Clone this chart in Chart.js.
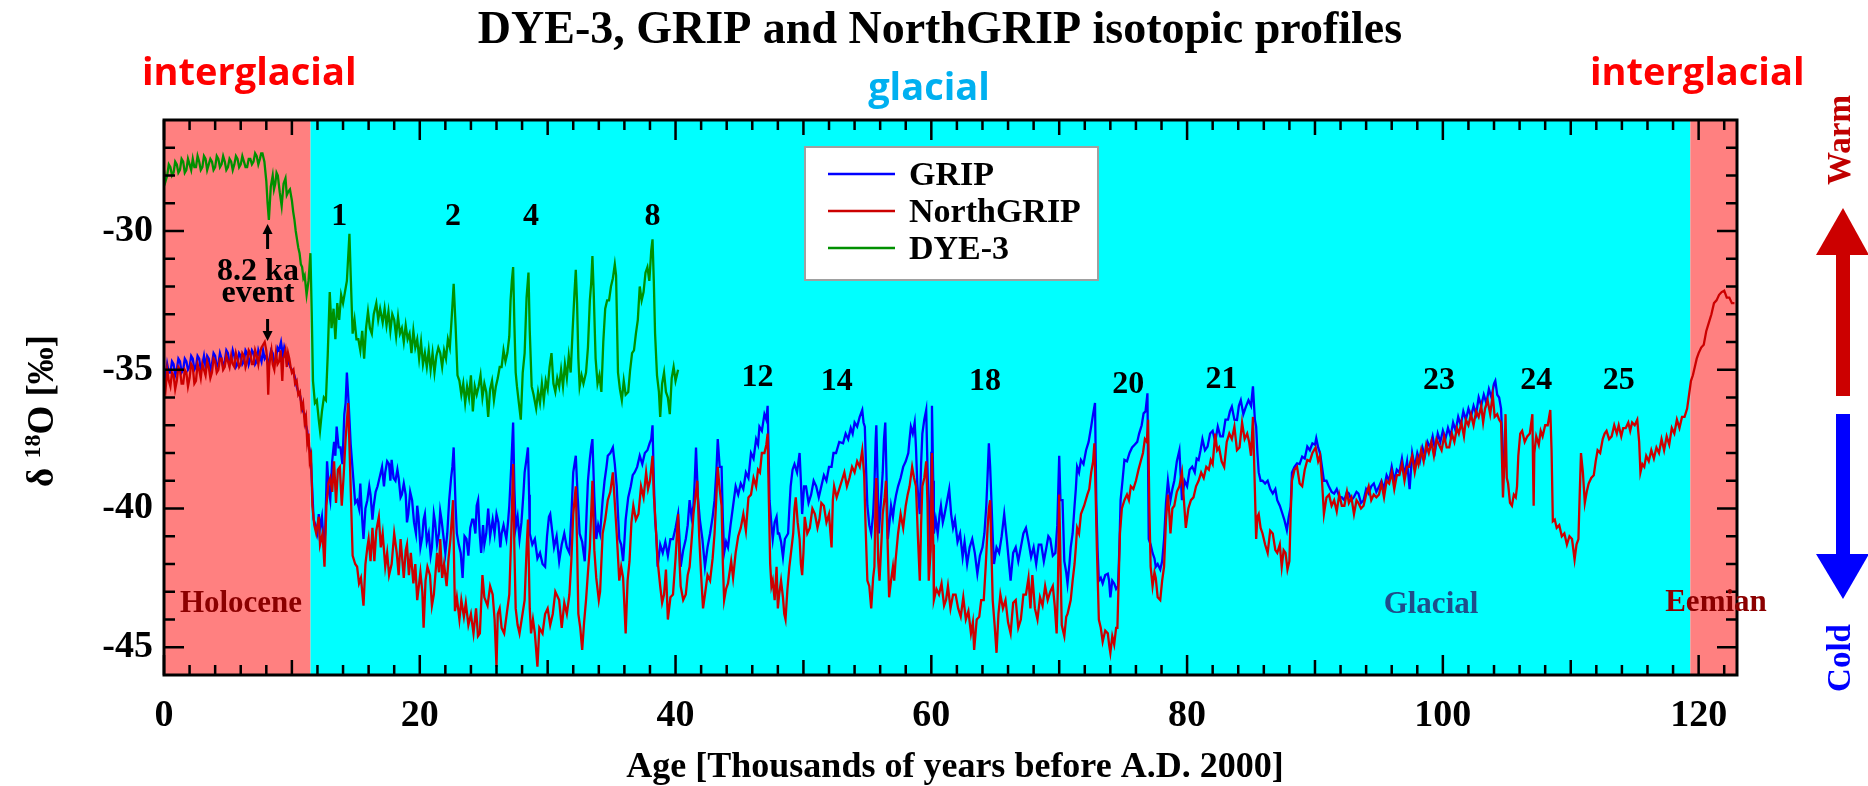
<!DOCTYPE html>
<html><head><meta charset="utf-8">
<script src="https://cdn.jsdelivr.net/npm/chart.js@4.4.1/dist/chart.umd.min.js"></script>
<style>html,body{margin:0;padding:0;background:#fff;}canvas{display:block;}</style>
</head><body>
<canvas id="c" width="1868" height="786"></canvas>
<script>
// ---------- data ----------
const xTickLabels = [0, 20, 40, 60, 80, 100, 120];
const yTickLabels = [-45, -40, -35, -30];
const periodEdges = [0, 11.46, 119.35, 123];
const eventNumbers = ['1','2','4','8','12','14','18','20','21','23','24','25'];
const eventAges = [13.7, 22.6, 28.7, 38.2, 46.4, 52.6, 64.2, 75.4, 82.7, 99.7, 107.3, 113.75];
const eventLevels = [-29.47, -29.47, -29.47, -29.47, -35.29, -35.43, -35.43, -35.54, -35.36, -35.4, -35.4, -35.4];
const event82Age = 8.1;

const NGRIP = [[0,-35.3],[0.125,-35.7],[0.25,-35.0],[0.375,-35.4],[0.5,-35.6],[0.625,-35.1],[0.75,-35.2],[0.875,-35.7],[1,-35.4],[1.125,-34.9],[1.25,-35.0],[1.375,-35.5],[1.5,-35.5],[1.625,-35.0],[1.75,-35.1],[1.875,-35.6],[2,-35.3],[2.125,-34.8],[2.25,-34.9],[2.375,-35.5],[2.5,-35.4],[2.625,-34.8],[2.75,-35.0],[2.875,-35.3],[3,-34.8],[3.125,-35.0],[3.25,-35.2],[3.375,-34.7],[3.5,-34.9],[3.625,-35.3],[3.75,-35.1],[3.875,-34.6],[4,-34.7],[4.125,-35.1],[4.25,-35.0],[4.375,-34.6],[4.5,-34.6],[4.625,-35.0],[4.75,-34.9],[4.875,-34.5],[5,-34.7],[5.125,-34.9],[5.25,-34.5],[5.375,-34.8],[5.5,-34.9],[5.625,-34.4],[5.75,-34.6],[5.875,-34.9],[6,-34.8],[6.125,-34.4],[6.25,-34.5],[6.375,-34.9],[6.5,-34.7],[6.625,-34.3],[6.75,-34.4],[6.875,-34.8],[7,-34.8],[7.125,-34.3],[7.25,-34.5],[7.375,-34.8],[7.5,-34.4],[7.625,-34.2],[7.75,-34.1],[7.875,-34.0],[8,-34.3],[8.075,-34.7],[8.15,-35.9],[8.225,-34.9],[8.3,-34.6],[8.4,-34.3],[8.5,-34.8],[8.625,-35.0],[8.75,-34.4],[8.875,-34.8],[9,-34.7],[9.125,-34.3],[9.25,-35.4],[9.325,-34.6],[9.4,-34.5],[9.5,-34.3],[9.6,-34.9],[9.7,-34.4],[9.8,-34.6],[9.9,-34.9],[10,-35.1],[10.125,-35.0],[10.25,-35.5],[10.375,-35.4],[10.5,-35.9],[10.625,-35.8],[10.75,-36.4],[10.875,-36.2],[11,-36.9],[11.1,-36.7],[11.2,-37.6],[11.3,-37.3],[11.4,-38.3],[11.5,-38.1],[11.6,-39.9],
[11.75,-40.6],[11.9,-40.9],[12.1,-40.3],[12.2,-41.3],[12.4,-40.9],[12.55,-42.1],[12.7,-39.9],[12.85,-39.1],[13,-38.9],[13.15,-39.4],[13.3,-38.3],[13.45,-39.8],[13.6,-38.6],[13.75,-38.5],[13.9,-39.9],[14.05,-38.8],[14.2,-37.5],[14.4,-36.2],[14.55,-38.5],[14.75,-41.7],[14.95,-42.0],[15.1,-42.1],[15.25,-42.7],[15.4,-42.5],[15.6,-43.5],[15.75,-42.0],[15.9,-41.4],[16,-41.1],[16.15,-41.9],[16.3,-40.7],[16.45,-41.9],[16.6,-40.8],[16.8,-40.3],[16.95,-41.4],[17.1,-40.9],[17.3,-42.1],[17.45,-41.6],[17.6,-42.4],[17.8,-42.0],[18,-40.9],[18.2,-41.6],[18.35,-42.4],[18.5,-41.1],[18.75,-42.5],[18.9,-41.5],[19,-41.3],[19.15,-42.4],[19.3,-41.6],[19.5,-42.7],[19.65,-42.0],[19.8,-43.3],[20.05,-42.3],[20.2,-43.0],[20.3,-44.3],[20.45,-42.6],[20.6,-42.1],[20.8,-42.4],[20.95,-43.5],[21.1,-43.1],[21.35,-41.6],[21.5,-42.3],[21.6,-41.1],[21.75,-42.5],[21.9,-42.0],[22.1,-42.8],[22.25,-41.8],[22.4,-41.1],[22.6,-39.7],[22.75,-43.7],[22.9,-43.2],[23.1,-44.0],[23.25,-43.3],[23.45,-43.9],[23.6,-43.4],[23.8,-44.2],[24,-43.8],[24.2,-44.5],[24.4,-43.6],[24.55,-44.6],[24.7,-44.5],[24.9,-42.4],[25.05,-43.2],[25.3,-43.5],[25.5,-42.8],[25.7,-43.1],[25.85,-44.0],[26,-45.7],[26.1,-43.8],[26.25,-43.6],[26.4,-44.3],[26.6,-44.5],[26.8,-43.8],[27,-43.1],[27.15,-41.0],[27.3,-38.4],[27.4,-41.5],[27.5,-43.6],[27.65,-44.2],[27.8,-44.5],[28,-43.9],[28.2,-43.3],[28.35,-41.5],[28.46,-40.4],[28.6,-43.6],[28.7,-44.5],[28.85,-44.0],[29,-44.5],[29.2,-45.7],[29.35,-44.3],[29.6,-44.5],[29.8,-43.8],[30,-43.6],[30.2,-44.2],[30.4,-43.8],[30.6,-43.0],[30.9,-43.3],[31.1,-44.3],[31.3,-43.4],[31.5,-43.8],[31.7,-43.1],[31.85,-41.9],[32,-40.2],[32.2,-39.2],[32.3,-41.3],[32.4,-43.8],[32.55,-44.3],[32.7,-45.1],[32.85,-44.1],[33,-43.3],[33.15,-42.3],[33.3,-41.4],[33.5,-39.0],[33.65,-41.5],[33.8,-42.5],[34,-43.3],[34.1,-43.0],[34.3,-40.9],[34.5,-40.4],[34.7,-39.7],[34.9,-39.4],[35.1,-38.7],[35.25,-39.8],[35.4,-40.9],[35.6,-42.6],[35.75,-42.1],[35.9,-42.5],[36.1,-44.5],[36.25,-42.6],[36.4,-41.9],[36.55,-40.5],[36.7,-39.9],[36.9,-40.4],[37.1,-40.2],[37.3,-39.2],[37.5,-39.6],[37.7,-38.7],[37.85,-39.3],[38,-39.0],[38.2,-38.1],[38.3,-39.5],[38.4,-40.2],[38.6,-41.9],[38.8,-42.8],[38.95,-43.4],[39.1,-43.1],[39.25,-42.2],[39.4,-44.0],[39.6,-43.2],[39.8,-43.1],[40,-41.8],[40.2,-40.2],[40.3,-41.8],[40.4,-42.8],[40.6,-43.3],[40.8,-43.1],[40.95,-42.4],[41.1,-42.1],[41.25,-41.2],[41.4,-40.2],[41.55,-39.6],[41.7,-39.0],[41.85,-41.0],[42,-42.4],[42.15,-43.6],[42.3,-43.1],[42.5,-42.4],[42.7,-42.6],[42.9,-41.8],[43.05,-40.9],[43.2,-39.5],[43.3,-38.5],[43.45,-39.3],[43.6,-39.9],[43.7,-42.0],[43.8,-43.3],[43.95,-42.9],[44.1,-42.7],[44.35,-41.9],[44.5,-42.5],[44.7,-41.6],[44.9,-41.0],[45.1,-40.7],[45.3,-40.2],[45.5,-40.8],[45.7,-39.6],[45.9,-39.5],[46.1,-38.9],[46.3,-39.2],[46.45,-38.6],[46.6,-38.7],[46.75,-38.0],[46.95,-38.0],[47.1,-37.7],[47.2,-37.3],[47.3,-39.8],[47.4,-42.0],[47.5,-42.8],[47.6,-42.6],[47.75,-43.3],[47.9,-42.1],[48,-43.6],[48.1,-43.1],[48.25,-42.6],[48.4,-43.2],[48.5,-43.8],[48.6,-44.0],[48.75,-42.9],[48.9,-42.1],[49.05,-41.5],[49.2,-40.9],[49.3,-40.0],[49.4,-39.6],[49.55,-40.5],[49.7,-41.1],[49.8,-42.0],[49.9,-42.4],[50,-41.6],[50.1,-40.3],[50.3,-40.9],[50.5,-40.7],[50.7,-40.0],[50.9,-40.2],[51.1,-40.7],[51.25,-40.4],[51.4,-39.8],[51.6,-39.9],[51.8,-40.5],[52,-40.2],[52.2,-41.4],[52.3,-39.7],[52.4,-39.2],[52.6,-39.6],[52.8,-39.3],[53,-39.0],[53.2,-38.7],[53.4,-39.2],[53.6,-38.9],[53.8,-38.5],[54,-38.7],[54.2,-38.3],[54.4,-38.5],[54.6,-37.9],[54.75,-38.8],[54.85,-40.5],[55,-42.6],[55.15,-42.8],[55.3,-43.6],[55.45,-42.5],[55.55,-42.1],[55.65,-39.5],[55.7,-38.9],[55.85,-41.9],[55.95,-42.6],[56.1,-41.2],[56.2,-40.2],[56.35,-39.6],[56.45,-39.0],[56.6,-41.5],[56.7,-43.2],[56.85,-42.6],[57,-42.1],[57.1,-42.6],[57.2,-41.9],[57.4,-40.9],[57.6,-40.2],[57.8,-40.7],[58,-39.9],[58.15,-39.5],[58.3,-39.2],[58.5,-38.5],[58.65,-38.9],[58.8,-39.2],[58.95,-41.0],[59.1,-42.6],[59.2,-40.6],[59.3,-39.2],[59.45,-38.9],[59.6,-38.3],[59.7,-39.8],[59.8,-42.6],[59.95,-41.5],[60.05,-38.0],[60.15,-41.3],[60.2,-43.3],[60.4,-42.9],[60.6,-43.1],[60.8,-42.7],[61,-43.5],[61.15,-43.3],[61.3,-42.8],[61.5,-43.6],[61.7,-43.1],[61.9,-43.1],[62.1,-43.6],[62.3,-43.9],[62.5,-43.2],[62.7,-44.0],[62.9,-43.7],[63.1,-44.5],[63.25,-44.1],[63.35,-45.1],[63.55,-44.0],[63.75,-43.9],[63.9,-43.3],[64.1,-43.3],[64.25,-42.1],[64.4,-40.7],[64.5,-40.0],[64.6,-39.7],[64.7,-41.5],[64.8,-43.3],[64.95,-44.2],[65.1,-45.2],[65.25,-43.8],[65.4,-43.1],[65.6,-43.6],[65.8,-43.3],[66,-44.1],[66.2,-44.5],[66.4,-43.4],[66.6,-43.3],[66.8,-44.3],[67,-44.0],[67.2,-43.1],[67.4,-43.1],[67.6,-42.5],[67.75,-43.6],[67.9,-42.4],[68.1,-43.6],[68.3,-44.0],[68.5,-43.2],[68.7,-43.5],[68.9,-42.8],[69.1,-43.3],[69.3,-43.0],[69.5,-42.8],[69.65,-43.5],[69.8,-44.5],[69.9,-42.8],[70,-39.5],[70.1,-42.0],[70.2,-44.2],[70.4,-44.6],[70.55,-43.9],[70.65,-43.8],[70.8,-43.5],[70.9,-43.3],[71.05,-42.6],[71.2,-42.0],[71.3,-41.4],[71.4,-40.7],[71.55,-40.9],[71.7,-40.2],[71.95,-39.9],[72.2,-39.5],[72.35,-39.3],[72.5,-38.7],[72.65,-38.3],[72.75,-37.65],[72.85,-39.5],[72.95,-41.5],[73.1,-44.0],[73.25,-44.3],[73.4,-44.8],[73.6,-44.4],[73.8,-44.5],[73.9,-44.9],[74,-45.2],[74.15,-44.6],[74.3,-44.9],[74.45,-44.3],[74.55,-44.3],[74.65,-42.6],[74.75,-40.9],[74.9,-40.0],[75.1,-39.7],[75.3,-39.5],[75.45,-39.7],[75.6,-39.2],[75.8,-39.3],[76,-39.0],[76.2,-38.6],[76.4,-38.25],[76.55,-38.0],[76.7,-37.5],[76.85,-37.6],[76.95,-36.8],[77.05,-40.0],[77.15,-42.1],[77.3,-42.8],[77.45,-42.3],[77.55,-42.5],[77.7,-43.2],[77.9,-43.3],[78.05,-42.6],[78.2,-42.1],[78.35,-40.4],[78.5,-39.5],[78.6,-40.1],[78.7,-40.9],[78.85,-40.0],[79,-39.9],[79.2,-39.4],[79.4,-39.2],[79.6,-38.7],[79.75,-39.7],[79.9,-40.7],[80.1,-40.0],[80.3,-39.7],[80.5,-39.6],[80.7,-39.2],[80.9,-39.0],[81.1,-38.7],[81.3,-38.9],[81.5,-38.5],[81.7,-38.6],[81.85,-38.25],[82,-38.4],[82.2,-37.3],[82.35,-37.9],[82.5,-37.8],[82.7,-38.3],[82.9,-38.5],[83.1,-37.6],[83.3,-37.3],[83.5,-37.5],[83.7,-37.05],[83.9,-37.9],[84.1,-37.8],[84.3,-36.9],[84.5,-37.5],[84.7,-37.3],[84.85,-37.6],[85,-38.1],[85.15,-36.7],[85.3,-39.3],[85.4,-41.1],[85.5,-40.3],[85.6,-40.2],[85.75,-40.7],[85.9,-40.9],[86.1,-41.3],[86.3,-41.6],[86.5,-40.8],[86.7,-40.9],[86.9,-41.5],[87.05,-41.6],[87.25,-41.3],[87.4,-42.1],[87.55,-41.5],[87.7,-41.6],[87.85,-42.2],[88,-41.9],[88.1,-40.2],[88.2,-39.0],[88.4,-38.6],[88.6,-38.5],[88.8,-39.1],[89,-39.2],[89.2,-38.6],[89.4,-38.25],[89.6,-38.3],[89.8,-38.0],[90.05,-37.8],[90.25,-38.3],[90.4,-38.1],[90.55,-39.0],[90.7,-40.2],[90.9,-39.6],[91.1,-39.5],[91.3,-39.9],[91.5,-39.7],[91.7,-40.1],[91.9,-39.5],[92.1,-39.9],[92.3,-39.9],[92.5,-39.4],[92.65,-39.8],[92.85,-39.6],[93.05,-40.2],[93.25,-39.7],[93.4,-39.8],[93.6,-40.0],[93.8,-39.9],[94,-39.5],[94.2,-39.2],[94.4,-39.7],[94.6,-39.5],[94.8,-39.6],[95,-39.5],[95.2,-39.1],[95.4,-39.6],[95.6,-39.0],[95.8,-39.1],[96,-38.7],[96.2,-39.3],[96.4,-38.8],[96.6,-38.8],[96.8,-38.4],[97,-39.0],[97.2,-38.5],[97.35,-38.5],[97.6,-38.1],[97.8,-38.7],[98,-38.2],[98.1,-38.4],[98.3,-37.9],[98.5,-38.3],[98.7,-37.7],[98.9,-38.0],[99.1,-37.6],[99.3,-38.1],[99.5,-37.5],[99.7,-37.7],[99.9,-37.9],[100.1,-37.4],[100.3,-37.8],[100.5,-37.8],[100.7,-37.3],[100.9,-37.6],[101.1,-37.1],[101.25,-37.3],[101.45,-36.9],[101.65,-37.4],[101.8,-36.8],[102,-37.0],[102.2,-36.6],[102.4,-37.0],[102.6,-36.5],[102.8,-36.7],[103,-36.3],[103.15,-36.9],[103.3,-36.4],[103.5,-36.1],[103.7,-36.6],[103.9,-35.9],[104.05,-36.7],[104.25,-36.6],[104.4,-36.8],[104.55,-36.9],[104.7,-39.6],[104.8,-38.5],[104.9,-36.6],[105,-38.9],[105.1,-39.1],[105.25,-39.8],[105.4,-39.9],[105.55,-39.5],[105.7,-39.6],[105.8,-39.2],[105.9,-38.1],[106.05,-37.3],[106.2,-37.2],[106.4,-37.6],[106.6,-37.4],[106.8,-37.3],[107,-36.6],[107.05,-38.4],[107.1,-39.9],[107.15,-38.0],[107.3,-37.4],[107.5,-37.7],[107.65,-37.2],[107.8,-37.4],[108,-37.0],[108.2,-37.0],[108.4,-36.45],[108.5,-37.9],[108.6,-40.46],[108.75,-40.4],[108.9,-40.7],[109.1,-40.6],[109.3,-41.0],[109.5,-40.9],[109.7,-41.3],[109.9,-41.0],[110.1,-41.1],[110.3,-41.84],[110.45,-41.3],[110.6,-41.1],[110.7,-39.5],[110.8,-38.0],[110.95,-38.7],[111.1,-39.8],[111.25,-39.4],[111.4,-39.1],[111.6,-38.9],[111.8,-38.8],[111.95,-38.3],[112.1,-37.9],[112.3,-38.0],[112.5,-37.5],[112.65,-37.3],[112.8,-37.2],[113,-37.5],[113.2,-37.4],[113.4,-37.0],[113.6,-37.3],[113.75,-37.0],[113.95,-37.4],[114.1,-37.1],[114.3,-37.1],[114.5,-36.9],[114.65,-37.2],[114.8,-36.9],[115,-37.0],[115.2,-36.8],[115.35,-37.6],[115.45,-38.7],[115.6,-38.4],[115.75,-38.5],[115.9,-38.1],[116.1,-38.3],[116.3,-37.9],[116.5,-38.2],[116.7,-37.8],[116.9,-38.0],[117.1,-37.5],[117.3,-37.9],[117.5,-37.4],[117.7,-37.7],[117.9,-37.1],[118.1,-37.3],[118.3,-36.8],[118.5,-37.1],[118.7,-36.7],[118.9,-36.7],[119.1,-36.4],[119.25,-35.9],[119.4,-35.4],[119.55,-35.2],[119.7,-34.9],[119.85,-34.6],[120,-34.4],[120.2,-34.2],[120.4,-34.1],[120.6,-33.6],[120.8,-33.3],[121,-33.0],[121.2,-32.6],[121.4,-32.5],[121.6,-32.3],[121.8,-32.2],[122,-32.15],[122.2,-32.4],[122.4,-32.4],[122.6,-32.6],[122.8,-32.6]];

const GRIP = [[0,-35.0],[0.125,-35.3],[0.25,-34.8],[0.375,-35.1],[0.5,-35.1],[0.625,-34.7],[0.75,-34.8],[0.875,-35.2],[1,-35.0],[1.125,-34.6],[1.25,-34.7],[1.375,-35.1],[1.5,-35.0],[1.625,-34.6],[1.75,-34.7],[1.875,-35.0],[2,-34.9],[2.125,-34.5],[2.25,-34.6],[2.375,-35.0],[2.5,-34.9],[2.625,-34.5],[2.75,-34.6],[2.875,-35.0],[3,-34.8],[3.125,-34.5],[3.25,-34.9],[3.375,-34.5],[3.5,-34.6],[3.625,-35.0],[3.75,-34.8],[3.875,-34.4],[4,-34.5],[4.125,-34.9],[4.25,-34.8],[4.375,-34.4],[4.5,-34.6],[4.625,-34.9],[4.75,-34.7],[4.875,-34.3],[5,-34.4],[5.125,-34.8],[5.25,-34.7],[5.375,-34.3],[5.5,-34.5],[5.625,-34.9],[5.75,-34.8],[5.875,-34.4],[6,-34.5],[6.125,-34.8],[6.25,-34.7],[6.375,-34.3],[6.5,-34.4],[6.625,-34.8],[6.75,-34.6],[6.875,-34.3],[7,-34.4],[7.125,-34.8],[7.25,-34.7],[7.375,-34.3],[7.5,-34.5],[7.625,-34.7],[7.75,-34.3],[7.875,-34.6],[8,-34.5],[8.125,-34.8],[8.25,-34.6],[8.375,-34.3],[8.5,-34.4],[8.625,-34.8],[8.75,-34.6],[8.875,-34.2],[9,-34.3],[9.15,-34.0],[9.3,-34.5],[9.4,-34.2],[9.5,-34.4],[9.625,-34.8],[9.75,-34.7],[9.875,-34.9],[10,-35.0],[10.125,-35.1],[10.25,-35.3],[10.375,-35.6],[10.5,-35.8],[10.625,-35.9],[10.75,-36.2],[10.875,-36.5],[11,-36.6],[11.1,-37.0],[11.2,-37.2],[11.3,-37.7],[11.4,-37.9],[11.5,-38.4],[11.6,-39.4],[11.7,-40.4],[11.85,-40.6],[12,-40.9],[12.1,-40.2],[12.2,-40.7],[12.35,-40.3],[12.5,-41.4],[12.6,-40.9],[12.75,-38.3],[12.9,-39.4],[13,-39.7],[13.15,-38.3],[13.3,-37.6],[13.4,-38.1],[13.5,-37.05],[13.65,-37.8],[13.8,-37.8],[13.95,-38.4],[14.1,-36.6],[14.2,-36.2],[14.3,-35.1],[14.45,-36.3],[14.6,-37.7],[14.85,-39.2],[14.95,-39.8],[15.1,-39.7],[15.25,-40.0],[15.35,-39.1],[15.5,-40.4],[15.6,-41.1],[15.75,-40.0],[15.9,-39.7],[16.05,-39.2],[16.15,-39.5],[16.3,-40.4],[16.4,-39.9],[16.55,-39.4],[16.7,-39.2],[16.9,-38.8],[17.05,-38.5],[17.2,-39.2],[17.3,-38.7],[17.45,-38.3],[17.6,-38.4],[17.7,-39.0],[17.8,-38.25],[17.95,-38.9],[18.1,-39.0],[18.25,-38.6],[18.35,-38.9],[18.5,-39.6],[18.6,-39.5],[18.75,-39.1],[18.9,-39.5],[19,-40.5],[19.1,-40.2],[19.25,-39.4],[19.4,-39.7],[19.55,-40.5],[19.7,-40.9],[19.8,-39.9],[19.9,-40.3],[20.05,-41.4],[20.2,-41.0],[20.3,-40.4],[20.4,-40.2],[20.55,-41.2],[20.7,-40.9],[20.85,-41.7],[20.95,-41.4],[21.1,-40.2],[21.2,-40.5],[21.35,-41.3],[21.5,-40.9],[21.6,-40.1],[21.7,-40.4],[21.85,-41.0],[22,-41.6],[22.15,-40.9],[22.3,-39.7],[22.45,-38.9],[22.55,-38.5],[22.65,-37.8],[22.8,-39.9],[22.9,-40.9],[23.05,-41.3],[23.2,-41.6],[23.35,-42.5],[23.5,-41.0],[23.65,-41.1],[23.8,-41.7],[23.95,-40.7],[24.1,-40.4],[24.2,-40.4],[24.35,-40.9],[24.45,-39.9],[24.56,-39.7],[24.7,-41.0],[24.8,-41.6],[24.95,-40.6],[25.05,-41.3],[25.2,-40.9],[25.35,-40.0],[25.5,-41.0],[25.7,-40.4],[25.85,-40.9],[26,-40.2],[26.15,-40.5],[26.3,-41.4],[26.4,-40.9],[26.55,-40.6],[26.77,-41.1],[26.9,-40.5],[27,-39.9],[27.15,-38.5],[27.3,-36.9],[27.4,-39.3],[27.5,-40.7],[27.65,-40.3],[27.8,-41.1],[27.95,-40.5],[28.1,-39.5],[28.2,-38.7],[28.35,-38.2],[28.46,-37.8],[28.55,-39.5],[28.6,-40.9],[28.8,-41.3],[29,-41.1],[29.2,-41.8],[29.4,-41.6],[29.6,-42.0],[29.8,-42.1],[29.95,-41.0],[30.1,-40.3],[30.2,-40.2],[30.35,-40.8],[30.5,-41.4],[30.7,-41.0],[30.9,-41.9],[31.1,-41.3],[31.3,-40.9],[31.5,-41.4],[31.7,-41.6],[31.85,-40.3],[32,-38.7],[32.2,-38.1],[32.35,-39.6],[32.5,-40.9],[32.7,-41.2],[32.9,-41.9],[33.05,-40.1],[33.15,-39.0],[33.3,-38.2],[33.4,-37.8],[33.5,-37.5],[33.65,-39.6],[33.8,-41.1],[33.95,-40.6],[34.1,-40.9],[34.3,-39.7],[34.45,-39.0],[34.6,-38.5],[34.7,-38.1],[34.9,-38.0],[35.1,-37.8],[35.25,-38.4],[35.4,-39.2],[35.5,-40.2],[35.6,-41.1],[35.75,-41.3],[35.9,-41.9],[36,-41.2],[36.1,-40.4],[36.3,-39.6],[36.5,-39.2],[36.65,-38.8],[36.8,-38.7],[37,-38.5],[37.2,-38.1],[37.4,-38.4],[37.6,-38.0],[37.8,-37.9],[37.97,-37.65],[38.1,-37.5],[38.2,-37.0],[38.3,-39.0],[38.4,-40.4],[38.5,-41.0],[38.6,-42.1],[38.8,-41.3],[39,-41.6],[39.2,-41.2],[39.4,-41.7],[39.6,-41.1],[39.8,-41.1],[40,-40.7],[40.2,-40.2],[40.3,-41.0],[40.4,-42.1],[40.6,-41.5],[40.8,-41.1],[40.95,-40.6],[41.1,-39.7],[41.25,-40.3],[41.4,-39.9],[41.5,-39.0],[41.6,-37.8],[41.75,-39.6],[41.9,-40.4],[42.1,-41.1],[42.3,-42.1],[42.5,-41.4],[42.7,-40.9],[42.9,-40.3],[43.05,-39.7],[43.2,-38.6],[43.3,-37.5],[43.45,-38.5],[43.6,-38.5],[43.7,-40.4],[43.8,-41.6],[43.95,-41.2],[44.1,-41.4],[44.3,-40.6],[44.5,-39.9],[44.7,-39.2],[44.9,-39.5],[45.1,-39.1],[45.3,-39.3],[45.5,-38.7],[45.7,-38.9],[45.9,-38.0],[46.1,-38.2],[46.3,-37.5],[46.45,-37.7],[46.56,-37.05],[46.75,-37.2],[46.95,-36.6],[47.1,-36.8],[47.2,-36.3],[47.3,-38.5],[47.35,-39.7],[47.5,-40.6],[47.6,-41.1],[47.75,-40.5],[47.9,-40.3],[48,-40.9],[48.1,-40.9],[48.25,-41.2],[48.4,-41.75],[48.55,-41.1],[48.8,-40.9],[48.9,-40.0],[49,-39.2],[49.15,-38.6],[49.3,-38.4],[49.5,-38.7],[49.7,-38.0],[49.8,-39.0],[49.9,-40.2],[50.05,-39.2],[50.2,-39.2],[50.4,-39.8],[50.6,-39.5],[50.8,-39.0],[51,-39.2],[51.2,-39.6],[51.4,-39.2],[51.6,-38.8],[51.8,-39.0],[52,-38.5],[52.2,-38.5],[52.35,-38.0],[52.55,-38.0],[52.8,-37.6],[53.1,-37.65],[53.3,-37.3],[53.5,-37.5],[53.7,-37.1],[53.85,-37.3],[54,-36.9],[54.2,-37.05],[54.4,-36.7],[54.6,-36.45],[54.7,-36.9],[54.8,-37.05],[54.9,-38.6],[55,-39.9],[55.15,-40.6],[55.3,-40.9],[55.45,-40.2],[55.55,-39.2],[55.65,-37.5],[55.7,-37.0],[55.8,-39.0],[55.9,-40.9],[56.05,-39.8],[56.2,-38.7],[56.3,-37.5],[56.4,-36.9],[56.5,-38.9],[56.6,-41.1],[56.75,-40.4],[56.85,-39.9],[57,-40.3],[57.1,-39.9],[57.25,-39.5],[57.4,-39.2],[57.6,-38.9],[57.8,-38.5],[58,-38.3],[58.2,-38.0],[58.3,-37.5],[58.4,-37.05],[58.55,-37.3],[58.7,-36.9],[58.8,-37.8],[58.9,-39.1],[59,-39.7],[59.1,-40.2],[59.2,-38.4],[59.3,-37.3],[59.45,-36.8],[59.6,-36.45],[59.7,-38.5],[59.8,-40.2],[59.9,-41.6],[60,-38.0],[60.05,-36.3],[60.15,-39.0],[60.2,-40.9],[60.35,-40.4],[60.5,-40.9],[60.65,-40.2],[60.75,-39.9],[60.9,-40.5],[61,-40.3],[61.2,-39.8],[61.4,-39.3],[61.55,-40.2],[61.7,-40.7],[61.85,-40.4],[62.05,-41.2],[62.25,-40.9],[62.45,-41.75],[62.6,-41.2],[62.8,-42.0],[63,-41.4],[63.2,-41.1],[63.4,-41.6],[63.6,-42.35],[63.8,-41.7],[64,-41.4],[64.15,-40.9],[64.3,-39.9],[64.4,-38.8],[64.5,-37.65],[64.6,-38.5],[64.7,-39.7],[64.8,-41.0],[64.9,-42.0],[65.1,-41.4],[65.3,-41.6],[65.5,-41.0],[65.7,-40.2],[65.9,-41.1],[66.1,-42.1],[66.2,-42.6],[66.4,-41.6],[66.6,-41.4],[66.8,-41.9],[67,-41.4],[67.2,-40.9],[67.4,-40.7],[67.6,-41.2],[67.8,-41.75],[68,-41.4],[68.2,-42.0],[68.4,-41.3],[68.6,-41.3],[68.8,-41.9],[69,-41.4],[69.15,-41.0],[69.3,-41.1],[69.5,-41.7],[69.7,-41.6],[69.85,-40.6],[70,-38.1],[70.1,-39.7],[70.26,-39.7],[70.4,-41.9],[70.55,-42.3],[70.65,-42.7],[70.8,-42.0],[70.9,-41.4],[71.05,-40.9],[71.2,-39.9],[71.3,-39.3],[71.4,-38.5],[71.55,-38.7],[71.7,-38.25],[71.9,-38.4],[72.1,-37.9],[72.3,-37.6],[72.5,-37.05],[72.65,-36.6],[72.8,-36.2],[72.9,-39.7],[73,-41.5],[73.1,-42.6],[73.25,-42.5],[73.4,-42.7],[73.6,-42.4],[73.8,-42.35],[73.9,-42.6],[74,-43.2],[74.15,-42.6],[74.3,-42.7],[74.45,-42.9],[74.6,-42.8],[74.7,-41.5],[74.8,-39.7],[74.95,-39.0],[75.1,-38.25],[75.3,-38.3],[75.5,-38.0],[75.7,-37.8],[75.9,-37.7],[76.1,-37.6],[76.25,-37.3],[76.45,-37.0],[76.6,-36.57],[76.75,-36.5],[76.9,-35.85],[77,-41.1],[77.15,-41.3],[77.3,-41.6],[77.45,-41.8],[77.55,-42.1],[77.7,-42.0],[77.9,-42.2],[78.05,-41.9],[78.2,-41.1],[78.35,-39.8],[78.5,-39.0],[78.6,-39.4],[78.7,-39.7],[78.85,-39.3],[79,-39.0],[79.2,-38.3],[79.4,-37.9],[79.5,-38.8],[79.6,-39.7],[79.8,-39.0],[80,-39.2],[80.2,-38.6],[80.4,-38.49],[80.6,-38.7],[80.75,-38.2],[80.9,-38.25],[81.05,-37.9],[81.2,-37.5],[81.4,-37.9],[81.6,-37.77],[81.8,-37.3],[82,-37.2],[82.2,-37.6],[82.4,-37.05],[82.6,-37.4],[82.8,-37.4],[83,-36.8],[83.2,-36.8],[83.35,-36.5],[83.5,-36.33],[83.7,-36.8],[83.9,-36.81],[84.05,-36.3],[84.2,-36.1],[84.4,-36.6],[84.6,-36.33],[84.8,-36.1],[85,-36.3],[85.15,-35.6],[85.3,-36.8],[85.4,-37.05],[85.5,-38.0],[85.6,-38.7],[85.75,-39.0],[85.9,-39.0],[86.1,-39.1],[86.3,-39.0],[86.5,-39.3],[86.7,-39.46],[86.9,-39.3],[87.05,-39.7],[87.25,-39.9],[87.45,-40.18],[87.6,-40.4],[87.8,-40.78],[87.95,-40.3],[88.1,-39.94],[88.2,-38.7],[88.4,-38.5],[88.6,-38.37],[88.8,-38.4],[89,-38.13],[89.2,-38.2],[89.4,-37.77],[89.6,-37.9],[89.8,-37.65],[90,-37.7],[90.1,-37.47],[90.25,-37.8],[90.4,-38.01],[90.55,-38.5],[90.7,-39.0],[90.9,-39.0],[91.1,-39.22],[91.3,-39.4],[91.5,-39.46],[91.7,-39.3],[91.9,-39.58],[92.1,-39.6],[92.3,-39.7],[92.5,-39.4],[92.65,-39.46],[92.85,-39.7],[93.05,-39.58],[93.25,-39.4],[93.4,-39.46],[93.6,-39.8],[93.8,-39.7],[94,-39.3],[94.2,-39.46],[94.4,-39.2],[94.6,-39.1],[94.8,-39.4],[95,-39.22],[95.2,-39.0],[95.4,-39.3],[95.6,-38.8],[95.8,-39.0],[96,-38.5],[96.2,-39.0],[96.4,-38.6],[96.6,-38.7],[96.8,-38.2],[97,-38.8],[97.2,-38.3],[97.4,-39.3],[97.6,-38.0],[97.8,-38.5],[98,-38.0],[98.2,-38.3],[98.4,-37.8],[98.6,-38.1],[98.8,-37.6],[99,-37.8],[99.2,-37.4],[99.4,-37.9],[99.6,-37.3],[99.8,-37.6],[100,-37.2],[100.2,-37.5],[100.4,-37.1],[100.6,-37.4],[100.8,-36.9],[101,-37.2],[101.2,-36.7],[101.4,-37.0],[101.6,-36.5],[101.8,-36.8],[102,-36.4],[102.2,-36.7],[102.4,-36.3],[102.6,-36.6],[102.8,-36.0],[103,-36.3],[103.2,-35.9],[103.4,-36.2],[103.6,-35.7],[103.8,-36.0],[104,-35.5],[104.1,-35.4],[104.25,-35.9],[104.4,-36.0],[104.55,-36.4],[104.65,-37.5],[104.75,-38.6]];

const DYE3 = [[0,-27.8],[0.125,-28.2],[0.25,-28.0],[0.375,-27.6],[0.5,-27.7],[0.625,-28.0],[0.75,-27.9],[0.875,-27.5],[1,-27.6],[1.125,-27.9],[1.25,-27.8],[1.375,-27.4],[1.5,-27.5],[1.625,-27.9],[1.75,-27.8],[1.875,-27.4],[2,-27.6],[2.125,-27.8],[2.25,-27.4],[2.375,-27.7],[2.5,-27.7],[2.625,-27.3],[2.75,-27.5],[2.875,-27.8],[3,-27.7],[3.125,-27.3],[3.25,-27.4],[3.375,-27.8],[3.5,-27.6],[3.625,-27.4],[3.75,-27.5],[3.875,-27.8],[4,-27.7],[4.125,-27.3],[4.25,-27.4],[4.375,-27.7],[4.5,-27.6],[4.625,-27.3],[4.75,-27.5],[4.875,-27.8],[5,-27.7],[5.125,-27.4],[5.25,-27.5],[5.375,-27.8],[5.5,-27.6],[5.625,-27.3],[5.75,-27.4],[5.875,-27.7],[6,-27.6],[6.125,-27.3],[6.25,-27.5],[6.375,-27.7],[6.5,-27.7],[6.625,-27.4],[6.75,-27.4],[6.875,-27.6],[7,-27.5],[7.125,-27.2],[7.25,-27.3],[7.375,-27.6],[7.5,-27.4],[7.6,-27.2],[7.7,-27.2],[7.85,-27.5],[8,-28.2],[8.1,-29.0],[8.2,-29.6],[8.35,-28.4],[8.5,-28.0],[8.6,-28.5],[8.7,-28.3],[8.8,-27.9],[8.9,-28.0],[9.05,-28.6],[9.2,-29.1],[9.35,-28.3],[9.5,-28.1],[9.6,-28.7],[9.7,-28.6],[9.85,-28.5],[10,-28.9],[10.1,-29.3],[10.2,-29.6],[10.3,-30.0],[10.4,-30.3],[10.5,-30.6],[10.6,-30.8],[10.7,-31.2],[10.8,-31.3],[10.9,-31.7],[11,-31.6],[11.15,-32.3],[11.3,-31.8],[11.45,-30.8],[11.55,-32.9],[11.65,-35.4],[11.8,-36.2],[11.95,-36.1],[12.1,-36.8],[12.2,-37.2],[12.35,-36.5],[12.5,-36.0],[12.66,-36.1],[12.8,-34.5],[12.96,-32.2],[13.1,-33.5],[13.26,-32.8],[13.4,-33.9],[13.55,-32.6],[13.7,-33.2],[13.85,-32.3],[14,-32.6],[14.15,-32.2],[14.3,-31.8],[14.5,-30.1],[14.6,-31.6],[14.75,-33.7],[14.9,-33.2],[15.05,-33.9],[15.2,-33.9],[15.35,-34.3],[15.5,-33.6],[15.65,-34.6],[15.8,-33.5],[15.95,-32.9],[16.1,-33.5],[16.25,-33.7],[16.4,-33.0],[16.6,-32.6],[16.75,-33.2],[16.9,-32.8],[17.1,-33.3],[17.25,-32.8],[17.4,-33.4],[17.55,-32.9],[17.7,-33.6],[17.85,-33.0],[18,-33.2],[18.15,-33.8],[18.3,-33.1],[18.45,-33.7],[18.6,-33.5],[18.75,-34.0],[18.9,-33.4],[19.05,-33.9],[19.2,-33.7],[19.35,-34.4],[19.5,-33.6],[19.65,-34.2],[19.8,-33.9],[19.95,-34.6],[20.1,-34.0],[20.25,-34.8],[20.4,-34.4],[20.55,-34.9],[20.7,-34.3],[20.85,-35.0],[21,-34.4],[21.15,-35.1],[21.3,-34.5],[21.45,-34.2],[21.6,-34.4],[21.75,-34.9],[21.9,-34.3],[22.05,-34.6],[22.2,-33.9],[22.35,-34.2],[22.5,-33.1],[22.65,-31.9],[22.8,-33.4],[22.95,-35.2],[23.1,-35.4],[23.25,-35.9],[23.4,-35.5],[23.55,-36.2],[23.7,-35.6],[23.85,-36.0],[24,-35.2],[24.15,-36.5],[24.3,-35.6],[24.45,-35.9],[24.6,-35.6],[24.75,-35.2],[24.9,-36.0],[25.05,-35.5],[25.2,-35.8],[25.35,-36.7],[25.5,-35.7],[25.65,-35.4],[25.8,-36.1],[25.95,-35.6],[26.1,-35.3],[26.25,-34.9],[26.4,-34.9],[26.55,-34.3],[26.7,-34.7],[26.85,-34.4],[27,-33.8],[27.1,-32.5],[27.2,-31.8],[27.3,-31.3],[27.4,-33.4],[27.5,-35.1],[27.6,-35.6],[27.75,-36.2],[27.9,-36.8],[28.05,-35.1],[28.2,-34.4],[28.35,-32.4],[28.5,-31.5],[28.6,-33.6],[28.75,-35.6],[28.9,-35.9],[29.1,-36.4],[29.25,-35.8],[29.4,-36.2],[29.55,-35.5],[29.7,-36.1],[29.85,-35.4],[30,-35.7],[30.15,-34.9],[30.3,-34.4],[30.45,-35.5],[30.6,-35.8],[30.75,-35.3],[30.9,-35.6],[31.05,-35.0],[31.2,-35.6],[31.35,-34.8],[31.5,-35.3],[31.65,-34.5],[31.8,-35.1],[31.95,-33.6],[32.1,-32.2],[32.2,-31.4],[32.3,-32.6],[32.4,-34.6],[32.5,-35.6],[32.65,-35.2],[32.8,-35.5],[33,-35.1],[33.15,-34.2],[33.3,-32.5],[33.4,-31.9],[33.5,-30.9],[33.6,-32.2],[33.75,-34.6],[33.9,-35.5],[34.05,-35.2],[34.2,-35.8],[34.35,-34.0],[34.5,-32.8],[34.65,-32.5],[34.8,-32.5],[34.95,-32.0],[35.1,-31.7],[35.25,-31.2],[35.35,-31.6],[35.5,-35.1],[35.65,-35.7],[35.8,-36.1],[35.95,-35.4],[36.1,-35.9],[36.3,-35.8],[36.45,-35.0],[36.6,-34.4],[36.75,-34.3],[36.9,-33.7],[37.05,-33.2],[37.2,-32.0],[37.35,-32.5],[37.5,-32.2],[37.65,-31.5],[37.8,-31.3],[37.95,-31.8],[38.1,-30.7],[38.2,-30.3],[38.3,-31.8],[38.4,-33.7],[38.55,-35.2],[38.7,-35.8],[38.8,-36.7],[38.95,-35.5],[39.1,-35.1],[39.25,-35.8],[39.4,-36.0],[39.55,-36.6],[39.7,-35.3],[39.85,-34.9],[40,-35.4],[40.2,-35.0]];

// ---------- drawing ----------
const SERIF = "'Liberation Serif','Times New Roman',serif";
const SANS = "'Open Sans','Noto Sans',sans-serif";
const toXY = a => a.map(p => ({x: p[0], y: p[1]}));

function txt(ctx, s, x, y, font, color, align, base) {
  ctx.font = font; ctx.fillStyle = color;
  ctx.textAlign = align || 'left'; ctx.textBaseline = base || 'alphabetic';
  ctx.fillText(s, x, y);
}

const decor = {
  id: 'decor',
  beforeDraw(chart) {
    const c = chart.ctx; c.save(); c.fillStyle = '#fff'; c.fillRect(0, 0, chart.width, chart.height); c.restore();
  },
  beforeDatasetsDraw(chart) {
    const c = chart.ctx, a = chart.chartArea, xs = chart.scales.x;
    const fills = ['#FF8080', '#00FFFF', '#FF8080'];
    c.save();
    for (let i = 0; i < periodEdges.length - 1; i++) {
      const x0 = xs.getPixelForValue(periodEdges[i]), x1 = xs.getPixelForValue(periodEdges[i + 1]);
      c.fillStyle = fills[i]; c.fillRect(x0, a.top, x1 - x0, a.bottom - a.top);
    }
    c.restore();
  },
  afterDatasetsDraw(chart) {
    const c = chart.ctx, a = chart.chartArea, xs = chart.scales.x, ys = chart.scales.y;
    c.save();
    c.strokeStyle = '#000'; c.lineWidth = 2.5;
    c.beginPath();
    for (let v = 0; v <= 122; v += 2) {
      const px = xs.getPixelForValue(v);
      const L = v % 20 === 0 ? 20 : (v % 10 === 0 ? 15 : 10);
      c.moveTo(px, a.bottom); c.lineTo(px, a.bottom - L);
      c.moveTo(px, a.top); c.lineTo(px, a.top + L);
    }
    for (let v = -45; v <= -27; v += 1) {
      const py = ys.getPixelForValue(v);
      const L = v % 5 === 0 ? 20 : 11;
      c.moveTo(a.left, py); c.lineTo(a.left + L, py);
      c.moveTo(a.right, py); c.lineTo(a.right - L, py);
    }
    c.stroke();
    c.lineWidth = 3; c.strokeRect(a.left, a.top, a.right - a.left, a.bottom - a.top);

    // legend
    c.fillStyle = '#fff'; c.fillRect(805, 147, 293, 133);
    c.strokeStyle = '#A0A0A0'; c.lineWidth = 2; c.strokeRect(805, 147, 293, 133);
    const leg = [['GRIP', '#0000FF', 174], ['NorthGRIP', '#CC0000', 211], ['DYE-3', '#009000', 248]];
    leg.forEach(([name, col, y]) => {
      c.strokeStyle = col; c.lineWidth = 2.5; c.beginPath(); c.moveTo(828, y); c.lineTo(895, y); c.stroke();
      txt(c, name, 909, y + 11, 'bold 34px ' + SERIF, '#000');
    });

    eventNumbers.forEach((s, i) => {
      txt(c, s, xs.getPixelForValue(eventAges[i]), ys.getPixelForValue(eventLevels[i]), 'bold 32px ' + SERIF, '#000', 'center', 'middle');
    });

    const ex = xs.getPixelForValue(event82Age);
    txt(c, '8.2 ka', 258, 280, 'bold 32px ' + SERIF, '#000', 'center');
    txt(c, 'event', 258, 302, 'bold 32px ' + SERIF, '#000', 'center');
    c.strokeStyle = '#000'; c.fillStyle = '#000'; c.lineWidth = 3;
    c.beginPath(); c.moveTo(ex, 249); c.lineTo(ex, 232); c.stroke();
    c.beginPath(); c.moveTo(ex, 224); c.lineTo(ex - 5, 234); c.lineTo(ex + 5, 234); c.closePath(); c.fill();
    c.beginPath(); c.moveTo(ex, 319); c.lineTo(ex, 333); c.stroke();
    c.beginPath(); c.moveTo(ex, 341); c.lineTo(ex - 5, 331); c.lineTo(ex + 5, 331); c.closePath(); c.fill();

    txt(c, 'Holocene', 241, 612, 'bold 31px ' + SERIF, '#8B0000', 'center');
    txt(c, 'Glacial', 1431, 613, 'bold 31px ' + SERIF, '#1F4E8A', 'center');
    txt(c, 'Eemian', 1716, 611, 'bold 31px ' + SERIF, '#8B0000', 'center');
    c.restore();
  },
  afterDraw(chart) {
    const c = chart.ctx;
    c.save();
    txt(c, 'DYE-3, GRIP and NorthGRIP isotopic profiles', 940, 43, 'bold 46px ' + SERIF, '#000', 'center');
    txt(c, 'interglacial', 142, 85, 'bold 38px ' + SANS, '#FF0000');
    txt(c, 'interglacial', 1590, 85, 'bold 38px ' + SANS, '#FF0000');
    txt(c, 'glacial', 929, 100, 'bold 38px ' + SANS, '#00B0F0', 'center');
    txt(c, 'Age [Thousands of years before A.D. 2000]', 955, 777, 'bold 36px ' + SERIF, '#000', 'center');

    c.translate(53, 411); c.rotate(-Math.PI / 2);
    const fMain = 'bold 37px ' + SERIF, fSup = 'bold 24px ' + SERIF;
    c.font = fMain; const w1 = c.measureText('\u03B4 ').width, w3 = c.measureText('O [\u2030]').width;
    c.font = fSup; const w2 = c.measureText('18').width;
    let sx = -(w1 + w2 + w3) / 2;
    txt(c, '\u03B4 ', sx, 0, fMain, '#000'); sx += w1;
    txt(c, '18', sx, -13, fSup, '#000'); sx += w2;
    txt(c, 'O [\u2030]', sx, 0, fMain, '#000');
    c.restore();

    c.save();
    c.fillStyle = '#CC0000';
    c.fillRect(1836, 253, 14, 143);
    c.beginPath(); c.moveTo(1843, 208); c.lineTo(1816, 255); c.lineTo(1869, 255); c.closePath(); c.fill();
    c.fillStyle = '#0000FF';
    c.fillRect(1836, 414, 14, 142);
    c.beginPath(); c.moveTo(1843, 599); c.lineTo(1816, 554); c.lineTo(1869, 554); c.closePath(); c.fill();
    c.restore();
    c.save(); c.translate(1850, 140); c.rotate(-Math.PI / 2);
    txt(c, 'Warm', 0, 0, 'bold 33px ' + SERIF, '#C00000', 'center'); c.restore();
    c.save(); c.translate(1850, 658); c.rotate(-Math.PI / 2);
    txt(c, 'Cold', 0, 0, 'bold 33px ' + SERIF, '#0000FF', 'center'); c.restore();
  }
};

new Chart(document.getElementById('c'), {
  type: 'line',
  data: {
    datasets: [
      {label: 'NorthGRIP', data: toXY(NGRIP), borderColor: '#CC0000', order: 0},
      {label: 'GRIP', data: toXY(GRIP), borderColor: '#0000FF', order: 1},
      {label: 'DYE-3', data: toXY(DYE3), borderColor: '#009000', order: 2}
    ]
  },
  options: {
    responsive: false, animation: false, devicePixelRatio: 1,
    parsing: {xAxisKey: 'x', yAxisKey: 'y'},
    elements: {point: {radius: 0}, line: {borderWidth: 2.3, tension: 0}},
    layout: {padding: {left: 0, right: 131, top: 120, bottom: 0}},
    plugins: {legend: {display: false}, tooltip: {enabled: false}},
    scales: {
      x: {
        type: 'linear', min: 0, max: 123,
        afterFit: s => { s.height = 111; },
        afterBuildTicks: s => { s.ticks = xTickLabels.map(v => ({value: v})); },
        grid: {display: false, drawTicks: false}, border: {display: false},
        ticks: {autoSkip: false, maxRotation: 0, padding: 18, color: '#000', font: {family: SERIF, size: 38, weight: 'bold'}}
      },
      y: {
        type: 'linear', min: -46, max: -26,
        afterFit: s => { s.width = 164; },
        afterBuildTicks: s => { s.ticks = yTickLabels.map(v => ({value: v})); },
        grid: {display: false, drawTicks: false}, border: {display: false},
        ticks: {padding: 11, color: '#000', font: {family: SERIF, size: 38, weight: 'bold'}}
      }
    }
  },
  plugins: [decor]
});
</script>
</body></html>
